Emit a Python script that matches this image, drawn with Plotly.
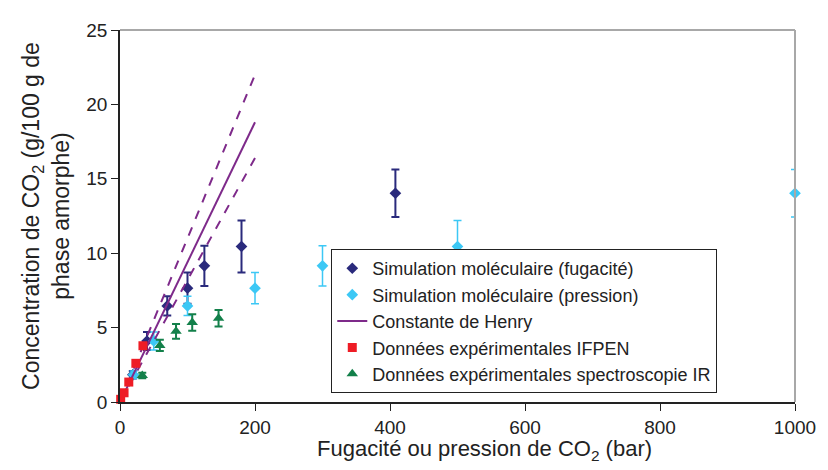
import plotly.graph_objects as go

# Simulation moléculaire - fugacité
fug_x = [19, 40, 70, 100, 125, 180, 408]
sim_y = [1.83, 4.1, 6.46, 7.65, 9.15, 10.45, 14.03]
sim_err = [0.25, 0.6, 0.65, 1.05, 1.35, 1.75, 1.6]
# Simulation moléculaire - pression
pres_x = [20, 50, 100, 200, 300, 500, 1000]
# Constante de Henry (+ bornes)
henry_x = [0, 200]
henry_y = [0, 18.8]
henry_hi = [0, 22.0]
henry_lo = [0, 16.4]
# Données expérimentales IFPEN
ifpen_x = [1, 6, 13, 23.5, 34]
ifpen_y = [0.18, 0.62, 1.34, 2.6, 3.78]
# Données expérimentales spectroscopie IR
ir_x = [33, 59, 83, 107, 146]
ir_y = [1.78, 3.8, 4.75, 5.34, 5.63]
ir_err = [0.18, 0.38, 0.5, 0.55, 0.55]

navy = '#2A2A7C'
cyan = '#3CC8F5'
purple = '#7E2A8A'
red = '#EE1C25'
green = '#13804A'

fig = go.Figure()
fig.add_trace(go.Scatter(x=fug_x, y=sim_y, mode='markers', name='Simulation moléculaire (fugacité)',
                         marker=dict(symbol='diamond', size=9, color=navy), cliponaxis=False,
                         error_y=dict(type='data', array=sim_err, color=navy, thickness=2, width=4)))
fig.add_trace(go.Scatter(x=pres_x, y=sim_y, mode='markers', name='Simulation moléculaire (pression)',
                         marker=dict(symbol='diamond', size=9, color=cyan), cliponaxis=False,
                         error_y=dict(type='data', array=sim_err, color=cyan, thickness=1.5, width=4)))
fig.add_trace(go.Scatter(x=henry_x, y=henry_y, mode='lines', name='Constante de Henry',
                         line=dict(color=purple, width=2)))
fig.add_trace(go.Scatter(x=henry_x, y=henry_hi, mode='lines', showlegend=False,
                         line=dict(color=purple, width=2, dash='dash')))
fig.add_trace(go.Scatter(x=henry_x, y=henry_lo, mode='lines', showlegend=False,
                         line=dict(color=purple, width=2, dash='dash')))
fig.add_trace(go.Scatter(x=ifpen_x, y=ifpen_y, mode='markers', name='Données expérimentales IFPEN',
                         marker=dict(symbol='square', size=9, color=red), cliponaxis=False))
fig.add_trace(go.Scatter(x=ir_x, y=ir_y, mode='markers', name='Données expérimentales spectroscopie IR',
                         marker=dict(symbol='triangle-up', size=10, color=green), cliponaxis=False,
                         error_y=dict(type='data', array=ir_err, color=green, thickness=2, width=4)))

# page body has an 8px margin: figure is sized and offset to compensate
fig.update_layout(
    width=820, height=462,
    margin=dict(l=112, r=27, t=15, b=68),
    paper_bgcolor='white', plot_bgcolor='white',
    font=dict(family='Liberation Sans, Arial, sans-serif', size=19, color='#222222'),
    showlegend=True,
    legend=dict(x=0.313, y=0.024, xanchor='left', yanchor='bottom',
                bordercolor='#222222', borderwidth=1, bgcolor='white',
                font=dict(size=18), tracegroupgap=0, itemwidth=30),
    xaxis=dict(range=[0, 1000], tickvals=[0, 200, 400, 600, 800, 1000],
               showline=True, linecolor='#222222', linewidth=1.5,
               ticks='outside', ticklen=7, tickcolor='#222222', showgrid=False, zeroline=False),
    yaxis=dict(range=[0, 25], tickvals=[0, 5, 10, 15, 20, 25],
               showline=True, linecolor='#222222', linewidth=1.5,
               ticks='outside', ticklen=7, tickcolor='#222222', showgrid=False, zeroline=False,
               title=dict(text='Concentration de CO<sub>2</sub> (g/100 g de<br>phase amorphe)', standoff=10)),
    annotations=[
        dict(text='Fugacité ou pression de CO<sub>2</sub> (bar)', xref='paper', yref='paper',
             x=0.54, y=-0.085, xanchor='center', yanchor='top', showarrow=False,
             font=dict(size=22)),
    ],
    shapes=[
        dict(type='line', xref='paper', yref='paper', x0=0, x1=1, y0=1, y1=1,
             line=dict(color='#A8A8A8', width=2)),
        dict(type='line', xref='paper', yref='paper', x0=1, x1=1, y0=0, y1=1,
             line=dict(color='#A8A8A8', width=2)),
    ],
)

fig.write_html("out.html")
